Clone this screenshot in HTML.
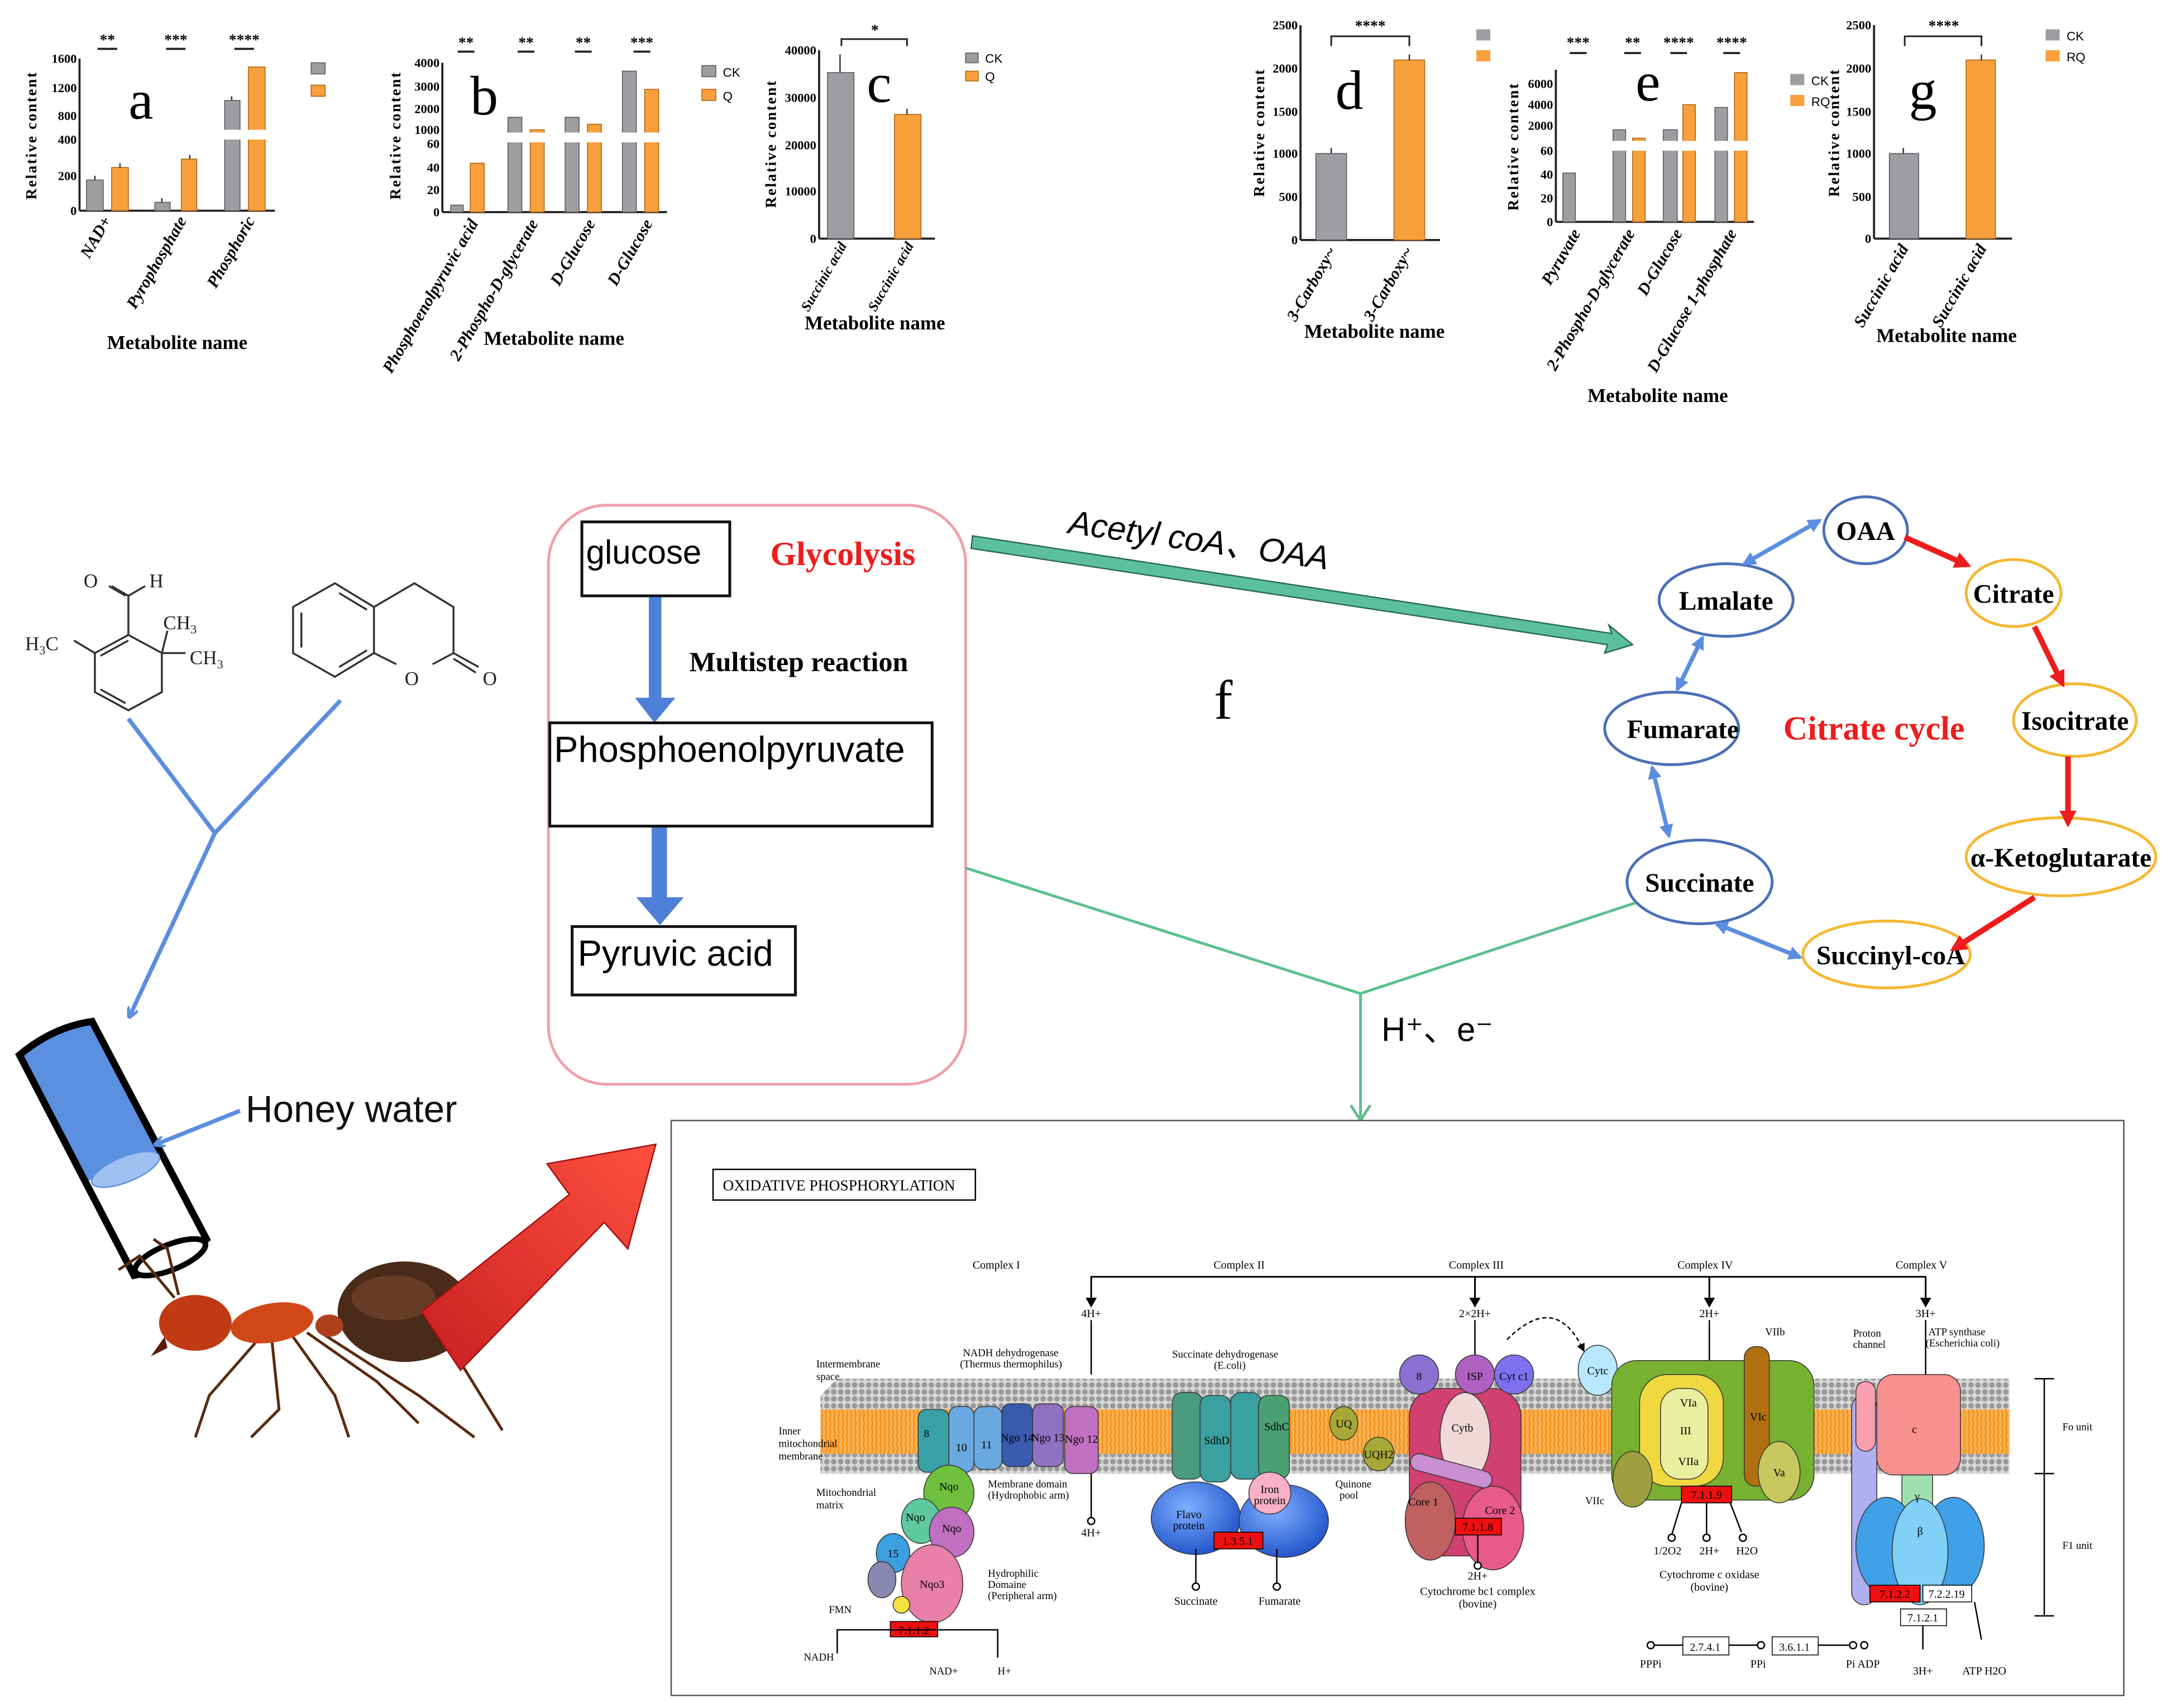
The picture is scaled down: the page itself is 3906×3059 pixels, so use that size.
<!DOCTYPE html>
<html><head><meta charset="utf-8">
<style>
html,body{margin:0;padding:0;background:#fff;}
svg{display:block;}
text{font-family:"Liberation Serif",serif;}
.s{font-family:"Liberation Sans",sans-serif;}
.tk{font-size:9px;font-weight:bold;text-anchor:end;}
.xl{font-size:12px;font-weight:bold;font-style:italic;text-anchor:end;}
.xs{font-size:10px;font-weight:bold;font-style:italic;text-anchor:end;}
.mn{font-size:14px;font-weight:bold;text-anchor:middle;}
.yl{font-size:11px;font-weight:bold;text-anchor:middle;letter-spacing:1px;}
.st{font-size:11px;font-weight:bold;text-anchor:middle;}
.lt{font-size:40px;text-anchor:middle;}
.lg{font-family:"Liberation Sans",sans-serif;font-size:9px;}
.ck{fill:#9d9da2;stroke:#555;stroke-width:0.6;}
.q{fill:#f8a03c;stroke:#a86010;stroke-width:0.6;}
.ax{stroke:#222;stroke-width:1.5;fill:none;}
.cy{font-size:19px;font-weight:bold;text-anchor:middle;}
.k{font-size:8px;text-anchor:middle;}
.kl{font-size:7.5px;}
</style></head><body>
<svg width="3906" height="3059" viewBox="0 0 1563 1224" preserveAspectRatio="none" xmlns="http://www.w3.org/2000/svg">
<defs>
<marker id="ab" markerWidth="8" markerHeight="8" refX="6" refY="4" orient="auto" markerUnits="userSpaceOnUse"><path d="M0,0 L8,4 L0,8" fill="none" stroke="#5b8ee0" stroke-width="2"/></marker>
<marker id="abs" markerWidth="10" markerHeight="10" refX="8" refY="5" orient="auto-start-reverse" markerUnits="userSpaceOnUse"><path d="M0,0 L10,5 L0,10 z" fill="#5b8ee0"/></marker>
<marker id="ar" markerWidth="12" markerHeight="12" refX="9" refY="6" orient="auto" markerUnits="userSpaceOnUse"><path d="M0,0 L12,6 L0,12 z" fill="#ee1c1c"/></marker>
<marker id="ak" markerWidth="6" markerHeight="6" refX="5" refY="3" orient="auto" markerUnits="userSpaceOnUse"><path d="M0,0 L6,3 L0,6 z" fill="#000"/></marker>
<pattern id="heads" width="5" height="5" patternUnits="userSpaceOnUse"><rect width="5" height="5" fill="#d8d8d8"/><circle cx="2.5" cy="2.5" r="2" fill="#9a9a9a"/></pattern>
<pattern id="tails" width="3" height="6" patternUnits="userSpaceOnUse"><rect width="3" height="6" fill="#f9b050"/><path d="M1.5,0 Q0,3 1.5,6" stroke="#f08a10" stroke-width="0.8" fill="none"/></pattern>
<linearGradient id="redar" x1="0" y1="1" x2="1" y2="0"><stop offset="0" stop-color="#c82020"/><stop offset="1" stop-color="#ff5040"/></linearGradient>
<radialGradient id="bl" cx="0.4" cy="0.35" r="0.7"><stop offset="0" stop-color="#7fb0ff"/><stop offset="1" stop-color="#1e50c8"/></radialGradient>
</defs>

<!-- ===== Chart a ===== -->
<g>
<line class="ax" x1="57" y1="42" x2="57" y2="151"/><line class="ax" x1="57" y1="151" x2="197" y2="151"/>
<text class="tk" x="55" y="45">1600</text><text class="tk" x="55" y="66">1200</text><text class="tk" x="55" y="86">800</text><text class="tk" x="55" y="103">400</text><text class="tk" x="55" y="129">200</text><text class="tk" x="55" y="154">0</text>
<rect class="ck" x="62" y="129" width="12" height="22"/><rect class="q" x="80" y="120" width="12" height="31"/>
<rect class="ck" x="111" y="145" width="11" height="6"/><rect class="q" x="130" y="114" width="11" height="37"/>
<rect class="ck" x="161" y="72" width="11" height="79"/><rect class="q" x="178" y="48" width="12" height="103"/>
<rect x="58" y="93" width="140" height="7" fill="#fff"/>
<path d="M68,129v-3M86,120v-3M116,145v-3M136,114v-3M166,72v-3" stroke="#333"/>
<text class="st" x="77" y="32">**</text><text class="st" x="126" y="32">***</text><text class="st" x="175" y="32">****</text>
<path d="M70,35h14M119,35h14M168,35h14" stroke="#222" stroke-width="1.5"/>
<rect x="223" y="45" width="10" height="8" fill="#9d9da2" stroke="#555" stroke-width=".6"/><rect x="223" y="61" width="10" height="8" fill="#f8a03c" stroke="#a86010" stroke-width=".6"/>
<text class="lt" x="101" y="85">a</text>
<text class="yl" transform="translate(26,97) rotate(-90)">Relative content</text>
<text class="xl" transform="translate(80,158) rotate(-60)">NAD+</text>
<text class="xl" transform="translate(134,158) rotate(-60)">Pyrophosphate</text>
<text class="xl" transform="translate(183,158) rotate(-60)">Phosphoric</text>
<text class="mn" x="127" y="250">Metabolite name</text>
</g>

<!-- ===== Chart b ===== -->
<g>
<line class="ax" x1="317" y1="45" x2="317" y2="152"/><line class="ax" x1="317" y1="152" x2="478" y2="152"/>
<text class="tk" x="315" y="48">4000</text><text class="tk" x="315" y="65">3000</text><text class="tk" x="315" y="81">2000</text><text class="tk" x="315" y="96">1000</text><text class="tk" x="315" y="106">60</text><text class="tk" x="315" y="123">40</text><text class="tk" x="315" y="139">20</text><text class="tk" x="315" y="155">0</text>
<rect class="ck" x="323" y="147" width="9" height="5"/><rect class="q" x="337" y="117" width="10" height="35"/>
<rect class="ck" x="364" y="84" width="10" height="68"/><rect class="q" x="380" y="93" width="10" height="59"/>
<rect class="ck" x="405" y="84" width="10" height="68"/><rect class="q" x="421" y="89" width="10" height="63"/>
<rect class="ck" x="446" y="51" width="10" height="101"/><rect class="q" x="462" y="64" width="10" height="88"/>
<rect x="318" y="95" width="160" height="7" fill="#fff"/>
<text class="st" x="334" y="34">**</text><text class="st" x="377" y="34">**</text><text class="st" x="418" y="34">**</text><text class="st" x="460" y="34">***</text>
<path d="M328,37h12M371,37h12M412,37h12M454,37h12" stroke="#222" stroke-width="1.5"/>
<rect x="503" y="47" width="10" height="8" fill="#9d9da2" stroke="#555" stroke-width=".6"/><text class="lg" x="518" y="55">CK</text>
<rect x="503" y="64" width="10" height="8" fill="#f8a03c" stroke="#a86010" stroke-width=".6"/><text class="lg" x="518" y="72">Q</text>
<text class="lt" x="347" y="82">b</text>
<text class="yl" transform="translate(287,97) rotate(-90)">Relative content</text>
<text class="xl" transform="translate(343,160) rotate(-60)">Phosphoenolpyruvic acid</text>
<text class="xl" transform="translate(386,160) rotate(-60)">2-Phospho-D-glycerate</text>
<text class="xl" transform="translate(427,160) rotate(-60)">D-Glucose</text>
<text class="xl" transform="translate(468,160) rotate(-60)">D-Glucose</text>
<text class="mn" x="397" y="247">Metabolite name</text>
</g>

<!-- ===== Chart c ===== -->
<g>
<line class="ax" x1="587" y1="36" x2="587" y2="171"/><line class="ax" x1="587" y1="171" x2="670" y2="171"/>
<text class="tk" x="585" y="39">40000</text><text class="tk" x="585" y="73">30000</text><text class="tk" x="585" y="107">20000</text><text class="tk" x="585" y="140">10000</text><text class="tk" x="585" y="174">0</text>
<rect class="ck" x="593" y="52" width="19" height="119"/><rect class="q" x="641" y="82" width="19" height="89"/>
<path d="M602,52v-13M650,82v-4" stroke="#333"/>
<path d="M603,33v-5h47v5" stroke="#222" stroke-width="1.2" fill="none"/><text class="st" x="627" y="25">*</text>
<rect x="692" y="38" width="9" height="7" fill="#9d9da2" stroke="#555" stroke-width=".6"/><text class="lg" x="706" y="45">CK</text>
<rect x="692" y="51" width="9" height="7" fill="#f8a03c" stroke="#a86010" stroke-width=".6"/><text class="lg" x="706" y="58">Q</text>
<text class="lt" x="630" y="73">c</text>
<text class="yl" transform="translate(556,103) rotate(-90)">Relative content</text>
<text class="xs" transform="translate(607,176) rotate(-60)">Succinic acid</text>
<text class="xs" transform="translate(655,176) rotate(-60)">Succinic acid</text>
<text class="mn" x="627" y="236">Metabolite name</text>
</g>

<!-- ===== Chart d ===== -->
<g>
<line class="ax" x1="932" y1="18" x2="932" y2="172"/><line class="ax" x1="932" y1="172" x2="1032" y2="172"/>
<text class="tk" x="930" y="21">2500</text><text class="tk" x="930" y="52">2000</text><text class="tk" x="930" y="83">1500</text><text class="tk" x="930" y="113">1000</text><text class="tk" x="930" y="144">500</text><text class="tk" x="930" y="175">0</text>
<rect class="ck" x="943" y="110" width="22" height="62"/><rect class="q" x="999" y="43" width="22" height="129"/>
<path d="M954,110v-4M1010,43v-4" stroke="#333"/>
<path d="M954,33v-7h56v7" stroke="#222" stroke-width="1.2" fill="none"/><text class="st" x="982" y="22">****</text>
<rect x="1058" y="21" width="10" height="8" fill="#9d9da2"/><rect x="1058" y="36" width="10" height="8" fill="#f8a03c"/>
<text class="lt" x="967" y="78">d</text>
<text class="yl" transform="translate(906,95) rotate(-90)">Relative content</text>
<text class="xl" transform="translate(958,180) rotate(-60)">3-Carboxy~</text>
<text class="xl" transform="translate(1013,180) rotate(-60)">3-Carboxy~</text>
<text class="mn" x="985" y="242">Metabolite name</text>
</g>

<!-- ===== Chart e ===== -->
<g>
<line class="ax" x1="1115" y1="50" x2="1115" y2="159"/><line class="ax" x1="1115" y1="159" x2="1257" y2="159"/>
<text class="tk" x="1113" y="63">6000</text><text class="tk" x="1113" y="78">4000</text><text class="tk" x="1113" y="93">2000</text><text class="tk" x="1113" y="111">60</text><text class="tk" x="1113" y="128">40</text><text class="tk" x="1113" y="145">20</text><text class="tk" x="1113" y="162">0</text>
<rect class="ck" x="1120" y="124" width="9" height="35"/>
<rect class="ck" x="1156" y="93" width="9" height="66"/><rect class="q" x="1170" y="99" width="9" height="60"/>
<rect class="ck" x="1192" y="93" width="10" height="66"/><rect class="q" x="1206" y="75" width="9" height="84"/>
<rect class="ck" x="1229" y="77" width="9" height="82"/><rect class="q" x="1243" y="52" width="9" height="107"/>
<rect x="1116" y="101" width="142" height="7" fill="#fff"/>
<text class="st" x="1131" y="34">***</text><text class="st" x="1170" y="34">**</text><text class="st" x="1203" y="34">****</text><text class="st" x="1241" y="34">****</text>
<path d="M1125,38h12M1164,38h12M1197,38h12M1235,38h12" stroke="#222" stroke-width="1.5"/>
<rect x="1283" y="53" width="10" height="8" fill="#9d9da2"/><text class="lg" x="1298" y="61">CK</text>
<rect x="1283" y="68" width="10" height="8" fill="#f8a03c"/><text class="lg" x="1298" y="76">RQ</text>
<text class="lt" x="1181" y="72">e</text>
<text class="yl" transform="translate(1088,105) rotate(-90)">Relative content</text>
<text class="xl" transform="translate(1133,167) rotate(-60)">Pyruvate</text>
<text class="xl" transform="translate(1172,167) rotate(-60)">2-Phospho-D-glycerate</text>
<text class="xl" transform="translate(1206,167) rotate(-60)">D-Glucose</text>
<text class="xl" transform="translate(1245,167) rotate(-60)">D-Glucose 1-phosphate</text>
<text class="mn" x="1188" y="288">Metabolite name</text>
</g>

<!-- ===== Chart g ===== -->
<g>
<line class="ax" x1="1343" y1="18" x2="1343" y2="171"/><line class="ax" x1="1343" y1="171" x2="1442" y2="171"/>
<text class="tk" x="1341" y="21">2500</text><text class="tk" x="1341" y="52">2000</text><text class="tk" x="1341" y="83">1500</text><text class="tk" x="1341" y="113">1000</text><text class="tk" x="1341" y="144">500</text><text class="tk" x="1341" y="174">0</text>
<rect class="ck" x="1354" y="110" width="21" height="61"/><rect class="q" x="1409" y="43" width="21" height="128"/>
<path d="M1364,110v-4M1420,43v-4" stroke="#333"/>
<path d="M1365,33v-7h55v7" stroke="#222" stroke-width="1.2" fill="none"/><text class="st" x="1393" y="22">****</text>
<rect x="1466" y="21" width="10" height="8" fill="#9d9da2"/><text class="lg" x="1481" y="29">CK</text>
<rect x="1466" y="36" width="10" height="8" fill="#f8a03c"/><text class="lg" x="1481" y="44">RQ</text>
<text class="lt" x="1378" y="78">g</text>
<text class="yl" transform="translate(1318,95) rotate(-90)">Relative content</text>
<text class="xl" transform="translate(1368,178) rotate(-60)">Succinic acid</text>
<text class="xl" transform="translate(1424,178) rotate(-60)">Succinic acid</text>
<text class="mn" x="1395" y="245">Metabolite name</text>
</g>

<!-- ===== Molecules ===== -->
<g stroke="#333" stroke-width="1.4" fill="none">
<path d="M92,455 L116,468 L116,496 L92,509 L68,496 L68,468 Z"/>
<path d="M72,470 L92,459 M72,494 L90,504"/>
<path d="M92,455 L92,427 L80,420 M92,427 L104,420 M90,427 L78,420"/>
<path d="M68,468 L53,459"/>
<path d="M116,468 L120,452 M116,468 L133,468"/>
<path d="M240,418 L268,435 L268,468 L240,485 L210,468 L210,435 Z"/>
<path d="M216,439 L216,464 M243,425 L263,437 M243,478 L263,466"/>
<path d="M268,435 L297,418 L325,435 L325,468 L310,476 M284,476 L268,468"/>
<path d="M325,468 L343,478 M325,472 L341,482"/>
</g>
<g class="s" font-size="14" fill="#222">
<text x="60" y="421">O</text><text x="107" y="421">H</text>
<text x="18" y="466">H<tspan font-size="9" dy="3">3</tspan><tspan dy="-3">C</tspan></text>
<text x="117" y="451">CH<tspan font-size="9" dy="3">3</tspan></text>
<text x="136" y="476">CH<tspan font-size="9" dy="3">3</tspan></text>
<text x="290" y="491">O</text><text x="346" y="491">O</text>
</g>
<path d="M92,515 L154,597 L244,502 M154,597 L93,728" stroke="#5b8ee0" stroke-width="3" fill="none" marker-end="url(#ab)"/>

<!-- tube -->
<g>
<path d="M14,756 Q38,736 66,732 L148,888 Q125,908 96,914 Z" fill="#fff" stroke="#000" stroke-width="5"/>
<path d="M14,756 Q38,736 66,732 L117,828 Q92,845 62,846 Z" fill="#5b8fe0" stroke="none"/>
<path d="M14,756 Q38,736 66,732 L148,888 Q125,908 96,914 Z" fill="none" stroke="#000" stroke-width="5"/>
<ellipse cx="90" cy="838" rx="26" ry="9" transform="rotate(-22 90 838)" fill="#9fc0f0" stroke="#5b8fe0"/>
<ellipse cx="122" cy="901" rx="27" ry="9" transform="rotate(-22 122 901)" fill="#fff" stroke="#000" stroke-width="4"/>
</g>
<path d="M172,796 L112,820" stroke="#5b8ee0" stroke-width="3" marker-end="url(#ab)"/>
<text class="s" x="176" y="804" font-size="27" fill="#111">Honey water</text>

<!-- ant -->
<g>
<g stroke="#5a2a10" stroke-width="2" fill="none">
<path d="M185,960 L150,1000 L140,1030"/><path d="M195,962 L200,1010 L180,1030"/>
<path d="M210,958 L240,1000 L250,1030"/><path d="M220,955 L270,990 L300,1020"/>
<path d="M230,955 L300,1000 L340,1030"/><path d="M240,950 L320,960 L360,1025"/>
<path d="M125,930 L100,900 L85,910"/><path d="M128,928 L120,895 L110,888"/>
</g>
<ellipse cx="290" cy="940" rx="48" ry="36" fill="#4a2a18"/>
<ellipse cx="282" cy="930" rx="30" ry="16" fill="#7a4a30" opacity=".6"/>
<ellipse cx="236" cy="950" rx="10" ry="8" fill="#b0401c"/>
<ellipse cx="195" cy="948" rx="30" ry="14" fill="#d04818" transform="rotate(-10 195 948)"/>
<ellipse cx="140" cy="948" rx="26" ry="20" fill="#c03a14"/>
<path d="M118,958 L108,972 L120,966" fill="#601a08"/>
</g>

<path d="M302,940 L408,856 L392,834 L470,820 L450,895 L433,876 L330,982 Z" fill="url(#redar)" stroke="#a01010" stroke-width="1"/>

<!-- glycolysis pink box -->
<rect x="393" y="362" width="299" height="415" rx="42" fill="none" stroke="#f0a0a8" stroke-width="2"/>
<rect x="417" y="374" width="106" height="53" fill="#fff" stroke="#111" stroke-width="2"/>
<text class="s" x="420" y="404" font-size="24">glucose</text>
<text x="552" y="405" font-size="24" font-weight="bold" fill="#ee1c1c">Glycolysis</text>
<rect x="465" y="428" width="9" height="75" fill="#4f80d8"/><path d="M455,500 L469,518 L484,500 Z" fill="#4f80d8"/>
<text x="494" y="481" font-size="20" font-weight="bold">Multistep reaction</text>
<rect x="394" y="518" width="274" height="74" fill="#fff" stroke="#111" stroke-width="2"/>
<text class="s" x="397" y="546" font-size="26">Phosphoenolpyruvate</text>
<rect x="467" y="593" width="11" height="52" fill="#4f80d8"/><path d="M456,643 L473,663 L490,643 Z" fill="#4f80d8"/>
<rect x="410" y="664" width="160" height="49" fill="#fff" stroke="#111" stroke-width="2"/>
<text class="s" x="414" y="692" font-size="26">Pyruvic acid</text>

<path d="M697,384 L1155,454 L1153,448 L1170,462 L1150,468 L1152,462 L696,393 Z" fill="#5cc0a0" stroke="#2a6a5a" stroke-width="1"/>
<text class="s" x="765" y="382" font-size="24" font-style="italic" transform="rotate(8 765 382)">Acetyl coA、OAA</text>

<text x="870" y="515" font-size="40">f</text>

<!-- citrate cycle -->
<g fill="none" stroke-width="2">
<ellipse cx="1337" cy="380" rx="30" ry="24" stroke="#4a70b8"/>
<ellipse cx="1443" cy="425" rx="34" ry="24" stroke="#f5b830"/>
<ellipse cx="1237" cy="430" rx="48" ry="26" stroke="#4a70b8"/>
<ellipse cx="1487" cy="516" rx="44" ry="26" stroke="#f5b830"/>
<ellipse cx="1198" cy="522" rx="48" ry="26" stroke="#4a70b8"/>
<ellipse cx="1477" cy="614" rx="68" ry="28" stroke="#f5b830"/>
<ellipse cx="1218" cy="632" rx="52" ry="30" stroke="#4a70b8"/>
<ellipse cx="1352" cy="684" rx="60" ry="24" stroke="#f5b830"/>
</g>
<text class="cy" x="1337" y="387">OAA</text>
<text class="cy" x="1443" y="432">Citrate</text>
<text class="cy" x="1237" y="437">Lmalate</text>
<text class="cy" x="1487" y="523">Isocitrate</text>
<text class="cy" x="1206" y="529">Fumarate</text>
<text class="cy" x="1477" y="621">α-Ketoglutarate</text>
<text class="cy" x="1218" y="639">Succinate</text>
<text class="cy" x="1355" y="691">Succinyl-coA</text>
<text x="1343" y="530" font-size="24" font-weight="bold" fill="#ee1c1c" text-anchor="middle">Citrate cycle</text>
<g stroke="#ee1c1c" stroke-width="4" marker-end="url(#ar)">
<line x1="1365" y1="385" x2="1410" y2="405"/><line x1="1458" y1="449" x2="1478" y2="490"/>
<line x1="1482" y1="542" x2="1482" y2="590"/><line x1="1458" y1="643" x2="1400" y2="680"/>
</g>
<g stroke="#5b8ee0" stroke-width="3" marker-start="url(#abs)" marker-end="url(#abs)">
<line x1="1250" y1="404" x2="1304" y2="373"/><line x1="1220" y1="457" x2="1202" y2="494"/>
<line x1="1184" y1="550" x2="1196" y2="599"/><line x1="1230" y1="662" x2="1290" y2="686"/>
</g>

<path d="M692,622 L975,712 L1172,647 M975,712 L975,801" stroke="#5cc090" stroke-width="2" fill="none"/>
<path d="M968,792 L975,803 L982,792" stroke="#5cc090" stroke-width="2" fill="none"/>
<text class="s" x="990" y="746" font-size="24">H⁺、e⁻</text>

<!-- ===== Oxidative phosphorylation ===== -->
<rect x="481" y="803" width="1041" height="412" fill="#fff" stroke="#555" stroke-width="1"/>
<rect x="511" y="838" width="188" height="22" fill="#fff" stroke="#000" stroke-width="1"/>
<text x="518" y="853" font-size="11">OXIDATIVE PHOSPHORYLATION</text>
<g class="k" font-size="9">
<text x="714" y="909">Complex I</text><text x="888" y="909">Complex II</text><text x="1058" y="909">Complex III</text><text x="1222" y="909">Complex IV</text><text x="1377" y="909">Complex V</text>
</g>
<path d="M782,935 V915 H1380 V936 M1057,915 V936 M1225,915 V936" stroke="#000" stroke-width="1.2" fill="none"/>
<path d="M778,930 L782,937 L786,930 M1053,930 L1057,937 L1061,930 M1221,930 L1225,937 L1229,930 M1376,930 L1380,937 L1384,930" fill="#000"/>
<text class="k" x="782" y="944">4H+</text><text class="k" x="1057" y="944">2×2H+</text><text class="k" x="1225" y="944">2H+</text><text class="k" x="1380" y="944">3H+</text>
<path d="M782,946 V985 M1057,946 V985 M1225,946 V985 M1380,946 V985" stroke="#000"/>

<path d="M588,1000 L600,988 L1440,988 L1440,1010 L588,1010 Z" fill="url(#heads)"/>
<rect x="588" y="1010" width="852" height="32" fill="url(#tails)"/>
<rect x="588" y="1042" width="852" height="14" fill="url(#heads)"/>
<text class="kl" x="585" y="980">Intermembrane</text><text class="kl" x="585" y="989">space</text>
<text class="kl" x="558" y="1028">Inner</text><text class="kl" x="558" y="1037">mitochondrial</text><text class="kl" x="558" y="1046">membrane</text>
<text class="kl" x="585" y="1072">Mitochondrial</text><text class="kl" x="585" y="1081">matrix</text>

<g stroke="#333" stroke-width=".6">
<rect x="658" y="1010" width="22" height="45" rx="6" fill="#3aa0a8"/>
<rect x="680" y="1008" width="18" height="47" rx="6" fill="#6aa8e0"/>
<rect x="698" y="1008" width="20" height="45" rx="6" fill="#6aa8e0"/>
<rect x="718" y="1006" width="22" height="45" rx="6" fill="#3a5ab0"/>
<rect x="740" y="1006" width="22" height="45" rx="6" fill="#9070c0"/>
<rect x="763" y="1008" width="24" height="48" rx="6" fill="#c070c0"/>
<ellipse cx="680" cy="1070" rx="18" ry="20" fill="#70c040"/>
<ellipse cx="660" cy="1090" rx="14" ry="16" fill="#60c8a0"/>
<ellipse cx="682" cy="1098" rx="16" ry="18" fill="#c070c0"/>
<ellipse cx="640" cy="1113" rx="12" ry="14" fill="#3aa0e0"/>
<ellipse cx="632" cy="1132" rx="10" ry="13" fill="#8888b0"/>
<ellipse cx="668" cy="1135" rx="22" ry="28" fill="#e880a8"/>
<ellipse cx="646" cy="1150" rx="6" ry="6" fill="#f8e040"/>
</g>
<g class="k" font-size="7"><text x="664" y="1030">8</text><text x="689" y="1040">10</text><text x="707" y="1038">11</text><text x="729" y="1033">Ngo 14</text><text x="751" y="1033">Ngo 13</text><text x="775" y="1034">Ngo 12</text><text x="680" y="1068">Nqo</text><text x="656" y="1090">Nqo</text><text x="682" y="1098">Nqo</text><text x="640" y="1116">15</text><text x="668" y="1138">Nqo3</text></g>
<rect x="638" y="1162" width="34" height="11" fill="#ee1010" stroke="#000" stroke-width=".6"/><text class="k" x="655" y="1171" font-size="7">7.1.1.2</text>
<path d="M600,1185 V1168 H715 V1188" stroke="#000" fill="none"/>
<text class="kl" x="576" y="1190">NADH</text><text class="kl" x="666" y="1200">NAD+</text><text class="kl" x="715" y="1200">H+</text>
<text class="kl" x="594" y="1156">FMN</text>
<text class="kl" x="708" y="1130">Hydrophilic</text><text class="kl" x="708" y="1138">Domaine</text><text class="kl" x="708" y="1146">(Peripheral arm)</text>
<text class="kl" x="708" y="1066">Membrane domain</text><text class="kl" x="708" y="1074">(Hydrophobic arm)</text>
<text class="kl" x="690" y="972">NADH dehydrogenase</text><text class="kl" x="688" y="980">(Thermus thermophilus)</text>
<path d="M782,1056 V1088" stroke="#000"/><circle cx="782" cy="1090" r="2.5" fill="#fff" stroke="#000"/><text class="k" x="782" y="1101">4H+</text>

<g stroke="#333" stroke-width=".6">
<rect x="840" y="998" width="22" height="62" rx="7" fill="#4a9a80"/>
<rect x="860" y="1000" width="22" height="62" rx="7" fill="#3aa0a0"/>
<rect x="882" y="998" width="22" height="62" rx="7" fill="#3aa0a0"/>
<rect x="902" y="1000" width="22" height="60" rx="7" fill="#4aa070"/>
<ellipse cx="857" cy="1088" rx="32" ry="26" fill="url(#bl)"/>
<ellipse cx="920" cy="1090" rx="32" ry="26" fill="url(#bl)"/>
<ellipse cx="910" cy="1070" rx="15" ry="15" fill="#f8b0c8"/>
<ellipse cx="963" cy="1020" rx="10" ry="12" fill="#a8a838"/>
<ellipse cx="988" cy="1042" rx="11" ry="12" fill="#a8a838"/>
</g>
<text class="k" x="872" y="1035" font-size="7">SdhD</text><text class="k" x="915" y="1025" font-size="7">SdhC</text><text class="k" x="963" y="1023" font-size="7">UQ</text><text class="k" x="988" y="1045" font-size="7">UQH2</text>
<text class="k" x="852" y="1088" font-size="7">Flavo</text><text class="k" x="852" y="1096" font-size="7">protein</text><text class="k" x="910" y="1070" font-size="7">Iron</text><text class="k" x="910" y="1078" font-size="7">protein</text>
<rect x="870" y="1098" width="35" height="12" fill="#ee1010" stroke="#000" stroke-width=".6"/><text class="k" x="887" y="1107" font-size="7">1.3.5.1</text>
<path d="M857,1110 V1135 M915,1110 V1135" stroke="#000"/><circle cx="857" cy="1137" r="2.5" fill="#fff" stroke="#000"/><circle cx="915" cy="1137" r="2.5" fill="#fff" stroke="#000"/>
<text class="k" x="857" y="1150">Succinate</text><text class="k" x="917" y="1150">Fumarate</text>
<text class="kl" x="840" y="973">Succinate dehydrogenase</text><text class="kl" x="870" y="981">(E.coli)</text>
<text class="kl" x="957" y="1066">Quinone</text><text class="kl" x="960" y="1074">pool</text>

<g stroke="#333" stroke-width=".6">
<rect x="1010" y="995" width="80" height="120" rx="20" fill="#d04070"/>
<ellipse cx="1050" cy="1030" rx="18" ry="32" fill="#f0d8d8"/>
<ellipse cx="1025" cy="1090" rx="18" ry="28" fill="#c06060"/>
<ellipse cx="1070" cy="1095" rx="22" ry="30" fill="#e85a8a"/>
<rect x="1010" y="1048" width="60" height="12" rx="6" fill="#c890d0" transform="rotate(15 1040 1054)"/>
<circle cx="1017" cy="985" r="14" fill="#8a70d0"/>
<circle cx="1057" cy="985" r="14" fill="#b060c0"/>
<circle cx="1085" cy="985" r="14" fill="#8070f0"/>
</g>
<text class="k" x="1017" y="989">8</text><text class="k" x="1057" y="989">ISP</text><text class="k" x="1085" y="989">Cyt c1</text><text class="k" x="1048" y="1026">Cytb</text><text class="k" x="1020" y="1079">Core 1</text><text class="k" x="1075" y="1085">Core 2</text>
<rect x="1043" y="1088" width="33" height="12" fill="#ee1010" stroke="#000" stroke-width=".6"/><text class="k" x="1059" y="1097" font-size="7">7.1.1.8</text>
<path d="M1059,1100 V1120" stroke="#000"/><circle cx="1059" cy="1122" r="2.5" fill="#fff" stroke="#000"/>
<text class="k" x="1059" y="1132">2H+</text><text class="k" x="1059" y="1143">Cytochrome bc1 complex</text><text class="k" x="1059" y="1152">(bovine)</text>
<path d="M1080,960 Q1115,925 1135,968" stroke="#000" fill="none" stroke-dasharray="3,2" marker-end="url(#ak)"/>

<g stroke="#333" stroke-width=".6">
<ellipse cx="1145" cy="982" rx="14" ry="18" fill="#b8e8ff"/>
<rect x="1155" y="975" width="145" height="100" rx="18" fill="#78b030"/>
<rect x="1175" y="985" width="60" height="80" rx="20" fill="#f0d840"/>
<rect x="1190" y="995" width="34" height="65" rx="14" fill="#e8f0a0"/>
<rect x="1250" y="965" width="18" height="100" rx="8" fill="#b07010"/>
<ellipse cx="1170" cy="1060" rx="14" ry="20" fill="#a0a040"/>
<ellipse cx="1275" cy="1055" rx="15" ry="22" fill="#c8c860"/>
</g>
<text class="k" x="1145" y="985">Cytc</text><text class="k" x="1208" y="1028">III</text><text class="k" x="1210" y="1008">VIa</text><text class="k" x="1275" y="1058">Va</text><text class="k" x="1260" y="1018">VIc</text><text class="k" x="1210" y="1050">VIIa</text>
<rect x="1205" y="1065" width="36" height="12" fill="#ee1010" stroke="#000" stroke-width=".6"/><text class="k" x="1223" y="1074" font-size="7">7.1.1.9</text>
<path d="M1205,1077 L1198,1100 M1223,1077 V1100 M1240,1077 L1248,1098" stroke="#000"/>
<circle cx="1198" cy="1102" r="2.5" fill="#fff" stroke="#000"/><circle cx="1223" cy="1102" r="2.5" fill="#fff" stroke="#000"/><circle cx="1249" cy="1102" r="2.5" fill="#fff" stroke="#000"/>
<text class="k" x="1195" y="1114">1/2O2</text><text class="k" x="1225" y="1114">2H+</text><text class="k" x="1252" y="1114">H2O</text>
<text class="k" x="1225" y="1131">Cytochrome c oxidase</text><text class="k" x="1225" y="1140">(bovine)</text>
<text class="kl" x="1265" y="957">VIIb</text><text class="kl" x="1136" y="1078">VIIc</text>

<g stroke="#333" stroke-width=".6">
<rect x="1327" y="1000" width="18" height="150" rx="9" fill="#b0b0f0"/>
<rect x="1330" y="990" width="14" height="50" rx="7" fill="#f8a0b0"/>
<rect x="1345" y="985" width="60" height="72" rx="12" fill="#f89090"/>
<rect x="1363" y="1057" width="22" height="25" fill="#a0e0b0"/>
<ellipse cx="1352" cy="1108" rx="22" ry="35" fill="#40a0e8"/>
<ellipse cx="1400" cy="1108" rx="22" ry="35" fill="#40a0e8"/>
<ellipse cx="1376" cy="1112" rx="20" ry="38" fill="#80d0f8"/>
</g>
<text class="k" x="1372" y="1027">c</text><text class="k" x="1374" y="1075">γ</text><text class="k" x="1376" y="1100">β</text>
<rect x="1340" y="1136" width="36" height="12" fill="#ee1010" stroke="#000" stroke-width=".6"/><text class="k" x="1358" y="1145" font-size="7">7.1.2.2</text>
<rect x="1378" y="1136" width="35" height="12" fill="#fff" stroke="#000" stroke-width=".6"/><text class="k" x="1395" y="1145" font-size="7">7.2.2.19</text>
<rect x="1362" y="1153" width="33" height="12" fill="#fff" stroke="#000" stroke-width=".6"/><text class="k" x="1378" y="1162" font-size="7">7.1.2.1</text>
<path d="M1378,1165 V1182 M1415,1148 L1420,1175" stroke="#000"/>
<text class="k" x="1378" y="1200">3H+</text><text class="k" x="1422" y="1200">ATP H2O</text>
<text class="kl" x="1328" y="958">Proton</text><text class="kl" x="1328" y="966">channel</text>
<text class="kl" x="1382" y="957">ATP synthase</text><text class="kl" x="1380" y="965">(Escherichia coli)</text>
<path d="M1465,988 V1158 M1458,988 H1472 M1458,1056 H1472 M1458,1158 H1472" stroke="#000"/>
<text class="kl" x="1478" y="1025">Fo unit</text><text class="kl" x="1478" y="1110">F1 unit</text>
<rect x="1206" y="1173" width="33" height="13" fill="#fff" stroke="#000" stroke-width=".6"/><text class="k" x="1222" y="1183" font-size="7">2.7.4.1</text>
<rect x="1270" y="1173" width="33" height="13" fill="#fff" stroke="#000" stroke-width=".6"/><text class="k" x="1286" y="1183" font-size="7">3.6.1.1</text>
<path d="M1185,1179 H1206 M1239,1179 H1265 M1303,1179 H1325" stroke="#000"/>
<circle cx="1183" cy="1179" r="2.5" fill="#fff" stroke="#000"/><circle cx="1262" cy="1179" r="2.5" fill="#fff" stroke="#000"/><circle cx="1328" cy="1179" r="2.5" fill="#fff" stroke="#000"/><circle cx="1336" cy="1179" r="2.5" fill="#fff" stroke="#000"/>
<text class="k" x="1183" y="1195">PPPi</text><text class="k" x="1260" y="1195">PPi</text><text class="k" x="1335" y="1195">Pi ADP</text>
</svg>
</body></html>
